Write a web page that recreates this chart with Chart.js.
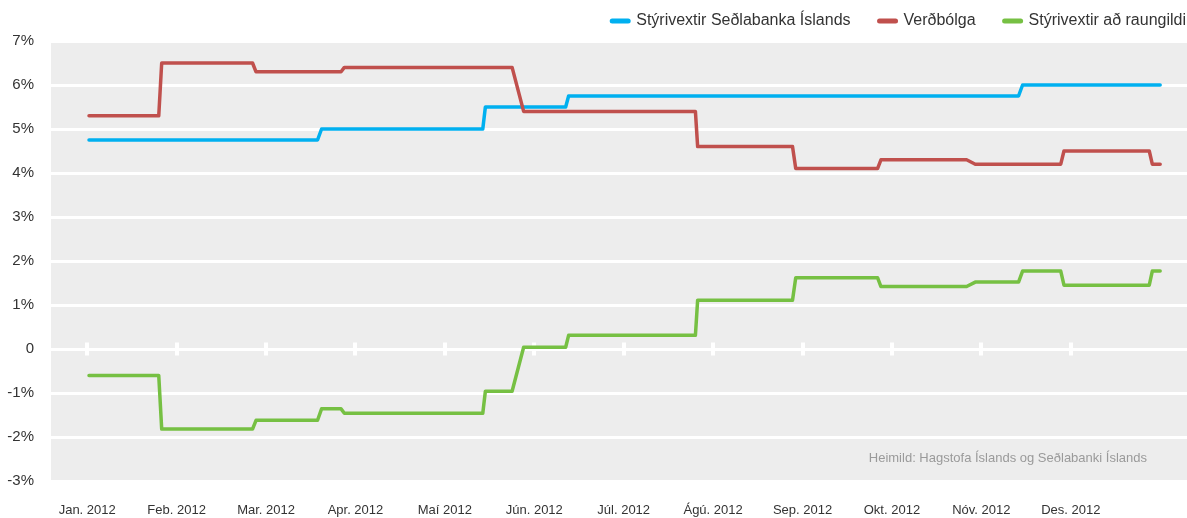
<!DOCTYPE html>
<html>
<head>
<meta charset="utf-8">
<script src="https://cdn.jsdelivr.net/npm/chart.js@4/dist/chart.umd.min.js"></script>
<style>
  html, body { margin: 0; padding: 0; background: #fff; }
  #wrap { width: 1187px; height: 518px; position: relative; }
</style>
</head>
<body>
<div id="wrap"><canvas id="c" width="1187" height="518"></canvas></div>
<script>
// ---- Data (x in months from 1 Jan 2012, values in %) ----
const monthLabels = ['Jan. 2012','Feb. 2012','Mar. 2012','Apr. 2012','Maí 2012','Jún. 2012','Júl. 2012','Ágú. 2012','Sep. 2012','Okt. 2012','Nóv. 2012','Des. 2012'];
const yTicks = [-3,-2,-1,0,1,2,3,4,5,6,7];
const seriesNames = ['Stýrivextir Seðlabanka Íslands','Verðbólga','Stýrivextir að raungildi'];

const policyX = [0.02, 2.576, 2.621, 4.424, 4.453, 5.351, 5.384, 10.416, 10.461, 12.0];
const policyY = [4.75, 4.75, 5.0, 5.0, 5.5, 5.5, 5.75, 5.75, 6.0, 6.0];

const inflationX = [0.02, 0.80, 0.833, 1.849, 1.888, 2.839, 2.876, 4.752, 4.881, 6.802, 6.827, 7.888, 7.924, 8.839, 8.877, 9.835, 9.932, 10.888, 10.924, 11.878, 11.912, 12.0];
const inflationY = [5.3, 5.3, 6.5, 6.5, 6.3, 6.3, 6.4, 6.4, 5.4, 5.4, 4.6, 4.6, 4.1, 4.1, 4.3, 4.3, 4.2, 4.2, 4.5, 4.5, 4.2, 4.2];

const realX = [0.02, 0.80, 0.833, 1.849, 1.888, 2.576, 2.621, 2.839, 2.876, 4.424, 4.453, 4.752, 4.881, 5.351, 5.384, 6.802, 6.827, 7.888, 7.924, 8.839, 8.877, 9.835, 9.932, 10.416, 10.461, 10.888, 10.924, 11.878, 11.912, 12.0];
const realY = [-0.6, -0.6, -1.82, -1.82, -1.62, -1.62, -1.36, -1.36, -1.46, -1.46, -0.96, -0.96, 0.04, 0.04, 0.31, 0.31, 1.11, 1.11, 1.62, 1.62, 1.42, 1.42, 1.52, 1.52, 1.77, 1.77, 1.45, 1.45, 1.77, 1.77];

const sourceText = 'Heimild: Hagstofa Íslands og Seðlabanki Íslands';

const toPoints = (xs, ys) => xs.map((x, i) => ({x: x, y: ys[i]}));

const FONT = "'Liberation Sans', Arial, sans-serif";
const LEGEND_PAD = 29;

const bgPlugin = {
  id: 'bg',
  afterLayout(chart) {
    // push the legend row flush with the right edge and up, like the original
    const lg = chart.legend;
    if (lg) {
      const dx = LEGEND_PAD - 1;
      lg.left += dx; lg.right += dx;
      lg.top -= 2; lg.bottom -= 2;
    }
  },
  beforeDraw(chart) {
    const {ctx, chartArea: a} = chart;
    ctx.save();
    ctx.fillStyle = '#ededed';
    ctx.fillRect(a.left, a.top, a.right - a.left, a.bottom - a.top);
    ctx.restore();
  },
  beforeDatasetsDraw(chart) {
    // white tick marks on the zero line
    const {ctx, scales} = chart;
    const y0 = scales.y.getPixelForValue(0);
    ctx.save();
    ctx.fillStyle = '#ffffff';
    scales.x.ticks.forEach(t => {
      const px = scales.x.getPixelForValue(t.value);
      ctx.fillRect(Math.round(px) - 2, y0 - 6.5, 4, 13);
    });
    ctx.restore();
  },
  afterDraw(chart) {
    const {ctx} = chart;
    ctx.save();
    ctx.font = '13px ' + FONT;
    ctx.fillStyle = '#9a9a9a';
    ctx.textAlign = 'right';
    ctx.textBaseline = 'middle';
    ctx.fillText(sourceText, 1147, 458);
    ctx.restore();
  }
};

new Chart(document.getElementById('c'), {
  type: 'line',
  data: {
    datasets: [
      { label: seriesNames[0], data: toPoints(policyX, policyY), borderColor: '#00b0f0', backgroundColor: '#00b0f0', order: 1 },
      { label: seriesNames[1], data: toPoints(inflationX, inflationY), borderColor: '#c0504d', backgroundColor: '#c0504d', order: 0 },
      { label: seriesNames[2], data: toPoints(realX, realY), borderColor: '#76c043', backgroundColor: '#76c043', order: 2 }
    ]
  },
  options: {
    responsive: false,
    animation: false,
    elements: {
      line: { borderWidth: 3.5, tension: 0, borderCapStyle: 'round', borderJoinStyle: 'round', fill: false },
      point: { radius: 0, hoverRadius: 0 }
    },
    layout: { padding: { top: -14, left: 0, right: 0, bottom: 0 } },
    plugins: {
      tooltip: { enabled: false },
      legend: {
        position: 'top',
        align: 'end',
        labels: {
          usePointStyle: true,
          pointStyle: 'line',
          pointStyleWidth: 16,
          boxHeight: 16,
          padding: LEGEND_PAD,
          color: '#333333',
          font: { family: FONT, size: 16 },
          sort: (a, b) => a.datasetIndex - b.datasetIndex,
          generateLabels(chart) {
            const items = Chart.defaults.plugins.legend.labels.generateLabels(chart);
            items.forEach(it => { it.lineWidth = 5; it.lineCap = 'round'; });
            return items;
          }
        }
      }
    },
    scales: {
      x: {
        type: 'linear',
        min: -0.405,
        max: 12.30,
        afterBuildTicks(scale) { scale.ticks = monthLabels.map((_, i) => ({value: i})); },
        afterFit(scale) { scale.height = 37; },
        grid: { display: false, drawTicks: false },
        border: { display: false },
        ticks: {
          padding: 22,
          autoSkip: false,
          maxRotation: 0,
          color: '#333333',
          font: { family: FONT, size: 13 },
          callback: (v) => monthLabels[v]
        }
      },
      y: {
        type: 'linear',
        min: -3,
        max: 7,
        afterBuildTicks(scale) { scale.ticks = yTicks.map(v => ({value: v})); },
        afterFit(scale) { scale.width = 51; },
        grid: { color: '#ffffff', lineWidth: 3, drawTicks: false },
        border: { display: false },
        ticks: {
          padding: 17,
          color: '#333333',
          font: { family: FONT, size: 15 },
          callback: (v) => v === 0 ? '0' : v + '%'
        }
      }
    }
  },
  plugins: [bgPlugin]
});
</script>
</body>
</html>
